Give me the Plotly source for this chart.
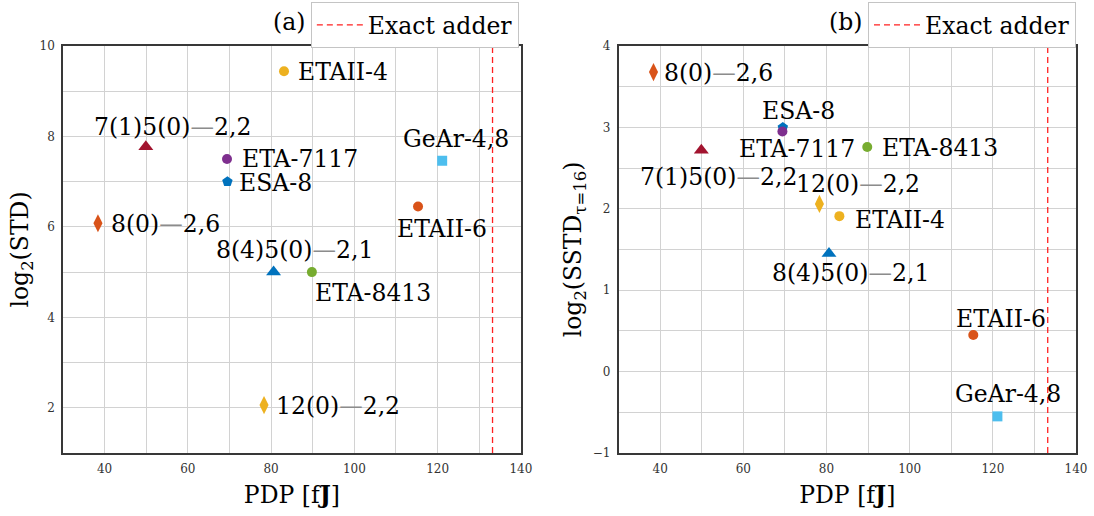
import plotly.graph_objects as go

# Adder designs: power-delay product and error metrics
designs = ["ETAII-4", "7(1)5(0)—2,2", "ESA-8", "ETA-7117", "GeAr-4,8",
           "ETAII-6", "8(0)—2,6", "8(4)5(0)—2,1", "ETA-8413", "12(0)—2,2"]
pdp_fj = [83.1, 49.9, 69.5, 69.4, 121.1, 115.3, 38.4, 80.6, 89.8, 78.3]
log2_std = [9.44, 7.77, 7.00, 7.50, 7.46, 6.45, 6.08, 5.00, 5.00, 2.06]
log2_sstd_tau16 = [1.91, 2.72, 3.00, 2.95, -0.55, 0.45, 3.68, 1.45, 2.76, 2.06]
exact_adder_pdp = 133.2

# Marker style per design
colors = ["#EDB120", "#A2142F", "#0072BD", "#7E2F8E", "#4DBEEE",
          "#D95319", "#D95319", "#0072BD", "#77AC30", "#EDB120"]
symbols = ["circle", "triangle-up", "pentagon", "circle", "square",
           "circle", "diamond-tall", "triangle-up", "circle", "diamond-tall"]
sizes = [10, 13, 11, 10, 10, 10, 13, 13, 10, 13]

# Label placement (xanchor, dx px, dy px) for each panel
labels_a = [("left", 12, -1), ("center", 27, 20), ("left", 10, -1), ("left", 13, 0),
            ("center", 14, 22), ("center", 24, -22), ("left", 11, -1),
            ("center", 21, 22), ("left", 1, -21), ("left", 10, -1)]
labels_b = [("left", 14, -4), ("center", 17, -27), ("center", 16, 16), ("center", 15, -18),
            ("center", 11, 22), ("center", 28, 16), ("left", 9, -1),
            ("center", 22, -19), ("left", 13, -1), ("center", 39, 20)]

W, H = 1094, 516
ML, MR, MT, MB = 63.3, 18, 46, 62.5
PW, PH = W - ML - MR, H - MT - MB
FONT = "DejaVu Serif"
FS = 23.5
DASH = '<span style="color:#8c8c8c">—</span>'


def px_x(p):
    return (p - ML) / PW


def px_y(p):
    return 1 - (p - MT) / PH


dom_a = [0, px_x(521)]
dom_b = [px_x(618.7), 1]

fig = go.Figure()

for xa, ya, yvals, yrange, leg in [("x", "y", log2_std, [1, 10], "legend"),
                                    ("x2", "y2", log2_sstd_tau16, [-1, 4], "legend2")]:
    fig.add_trace(go.Scatter(
        x=[exact_adder_pdp, exact_adder_pdp], y=yrange, mode="lines",
        line=dict(color="#ff2020", width=1.3, dash="6px,4px"),
        name="Exact adder", xaxis=xa, yaxis=ya, legend=leg, showlegend=True))
    fig.add_trace(go.Scatter(
        x=pdp_fj, y=yvals, mode="markers", xaxis=xa, yaxis=ya, showlegend=False,
        marker=dict(color=colors, symbol=symbols, size=sizes, opacity=1,
                    line=dict(width=0))))

annotations = []
for xa, ya, yvals, spec in [("x", "y", log2_std, labels_a),
                            ("x2", "y2", log2_sstd_tau16, labels_b)]:
    for name, px, py, (anc, dx, dy) in zip(designs, pdp_fj, yvals, spec):
        annotations.append(dict(
            x=px, y=py, xref=xa, yref=ya, text=name.replace("—", DASH),
            showarrow=False, xanchor=anc, yanchor="middle", xshift=dx, yshift=dy,
            font=dict(family=FONT, size=FS, color="black")))

for txt, xr in [("(a)", 307), ("(b)", 864)]:
    annotations.append(dict(
        x=px_x(xr), y=px_y(21.5), xref="paper", yref="paper", text=txt,
        showarrow=False, xanchor="right", yanchor="middle",
        font=dict(family=FONT, size=FS, color="black")))

axis_common = dict(showline=True, mirror=True, linecolor="#383838", linewidth=1.5,
                   showgrid=True, gridcolor="#d2d2d2", gridwidth=1, zeroline=False,
                   ticks="", automargin=False, ticklabelstandoff=4,
                   tickfont=dict(family=FONT, size=12, color="#333"))

legend_common = dict(bordercolor="#c4c4c4", borderwidth=1, bgcolor="white",
                     font=dict(family=FONT, size=FS, color="black"), itemwidth=46,
                     yanchor="top", y=px_y(2), xanchor="right")

title_font = dict(family=FONT, size=FS, color="black")
minor_grid = dict(showgrid=True, gridcolor="#d2d2d2")

fig.update_layout(
    width=W, height=H, margin=dict(l=ML, r=MR, t=MT, b=MB, autoexpand=False),
    paper_bgcolor="white", plot_bgcolor="white",
    xaxis=dict(domain=dom_a, range=[30, 140], dtick=20, tick0=0,
               minor=dict(dtick=10, **minor_grid),
               title=dict(text="PDP [f<b>J</b>]", standoff=11, font=title_font),
               anchor="y", **axis_common),
    yaxis=dict(domain=[0, 1], range=[1, 10], dtick=2, tick0=0,
               minor=dict(dtick=1, **minor_grid),
               title=dict(text="log<sub>2</sub>(STD)", standoff=4, font=title_font),
               anchor="x", **axis_common),
    xaxis2=dict(domain=dom_b, range=[30, 140], dtick=20, tick0=0,
                minor=dict(dtick=10, **minor_grid),
                title=dict(text="PDP [f<b>J</b>]", standoff=11, font=title_font),
                anchor="y2", **axis_common),
    yaxis2=dict(domain=[0, 1], range=[-1, 4], dtick=1, tick0=0,
                minor=dict(dtick=0.5, **minor_grid),
                title=dict(text="log<sub>2</sub>(SSTD<sub>τ=16</sub>)", standoff=4,
                           font=title_font),
                anchor="x2", **axis_common),
    legend=dict(x=px_x(519), **legend_common),
    legend2=dict(x=1, **legend_common),
    annotations=annotations,
)

fig.write_html("out.html")
